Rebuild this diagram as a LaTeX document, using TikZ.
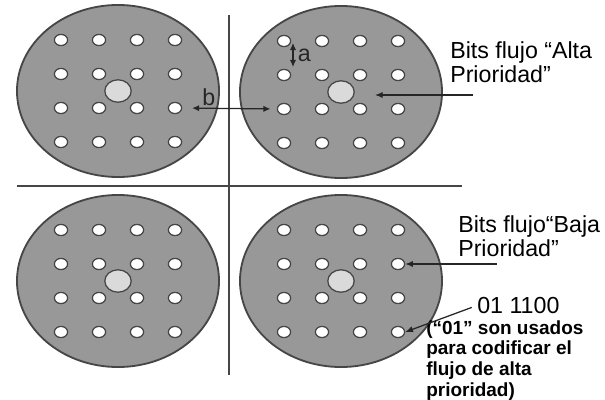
\documentclass[tikz,border=0pt]{standalone}
\usepackage{fontspec}
\setmainfont{Liberation Sans}
\usetikzlibrary{arrows.meta}
\usetikzlibrary{shapes.geometric}
\definecolor{dgray}{RGB}{70,70,70}
\definecolor{mgray}{RGB}{152,152,152}
\definecolor{lgray}{RGB}{218,218,218}
\tikzset{disc/.style = {ellipse, draw=dgray, line width=1.3pt, fill=mgray,
                        minimum width=5.05cm, minimum height=4.3cm, inner sep=0pt},
         hole/.style = {ellipse, draw=dgray, line width=0.9pt, fill=white,
                        minimum width=0.33cm, minimum height=0.28cm, inner sep=0pt},
         hub/.style = {ellipse, draw=dgray, line width=0.9pt, fill=lgray,
                       minimum width=0.66cm, minimum height=0.56cm, inner sep=0pt},
         rule/.style = {dgray, line width=0.9pt},
         ptr/.style = {black!85, line width=0.9pt, -{Latex[length=5.5pt, width=4.5pt]}},
         dim/.style = {black!85, line width=0.9pt, {Latex[length=5pt, width=4.5pt]}-{Latex[length=5pt, width=4.5pt]}},
         lbl/.style = {font=\fontsize{16.5}{17.5}\selectfont, align=left, inner sep=0pt},
         note/.style = {font=\bfseries\fontsize{13.5}{14.8}\selectfont, align=left, inner sep=0pt}}

\begin{document}
\begin{tikzpicture}[x=0.025cm, y=-0.025cm]
    \useasboundingbox (0, 0) rectangle (605, 400);

    % quadrant rules
    \draw [rule] (229, 15) -- (229, 375);
    \draw [rule] (17, 186) -- (462, 186);

    % four discs with their 4x4 holes
    \foreach \d/\cx/\cy in {tl/118/91, tr/341/92, bl/118/281, br/341/281} {
        \node [disc] (\d) at (\cx, \cy) {};
        \node [hub] (\d-c) at (\cx, \cy) {};
        \foreach \r/\dy in {1/-51, 2/-17, 3/17, 4/51}
            \foreach \c/\dx in {1/-57, 2/-19, 3/19, 4/57}
                \node [hole] (\d-\r-\c) at (\cx+\dx, \cy+\dy) {};
    }

    % spacings a and b
    \coordinate (a-top) at (293, 43);
    \coordinate (a-bot) at (293, 67);
    \draw [dim] (a-top) -- node [right, font=\fontsize{16.5}{17}\selectfont, inner sep=3pt] {a} (a-bot);
    \draw [dim, shorten <=7pt, shorten >=4.5pt] (tl-3-4.east) -- node [above, pos=0.28, font=\fontsize{16.5}{17}\selectfont, inner sep=1.5pt] {b} (tr-3-1.west);

    % labels
    \node [lbl, anchor=north west] (alta) at (450, 41) {Bits flujo “Alta\\Prioridad”};
    \coordinate (alta-end) at (473, 95);
    \coordinate (alta-tip) at (375, 95);
    \draw [ptr] (alta-end) -- (alta-tip);

    \node [lbl, anchor=north west] (baja) at (458, 215) {Bits flujo“Baja\\Prioridad”};
    \coordinate (baja-end) at (497, 264);
    \draw [ptr] (baja-end) -- (br-2-4.east);

    \node [lbl, anchor=north west] (code) at (477, 297) {01 1100};
    \node [note, anchor=north west] (note) at (426, 320) {(“01” son usados\\para codificar el\\flujo de alta\\prioridad)};
    \draw [ptr, shorten <=4pt] (code.west) -- (br-4-4.east);
\end{tikzpicture}
\end{document}
